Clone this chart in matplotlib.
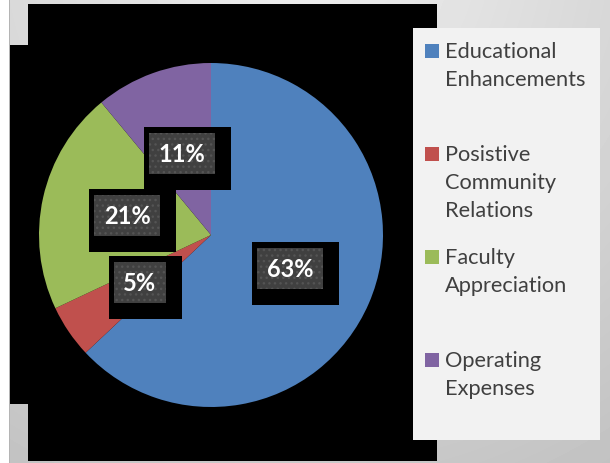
import numpy as np
import matplotlib
matplotlib.use('Agg')
import matplotlib.pyplot as plt
from matplotlib.patches import Rectangle

categories = ['Educational\nEnhancements', 'Posistive\nCommunity\nRelations',
              'Faculty\nAppreciation', 'Operating\nExpenses']
values = [63, 5, 21, 11]
colors = ['#4F81BD', '#C0504D', '#9BBB59', '#8064A2']

W, H = 610, 463
fig = plt.figure(figsize=(W / 100, H / 100), dpi=100)
fig.patch.set_facecolor('white')

# background / decoration axes in pixel coordinates (origin top-left)
bg = fig.add_axes([0, 0, 1, 1], zorder=0)
bg.axis('off')
yy, xx = np.mgrid[0:H, 0:W - 9]
xx = xx + 9
d = np.hypot(xx - 300, yy + 50)
v = np.clip(0.94 - 0.0003 * d, 0, 1)
bg.imshow(v, cmap='gray', vmin=0, vmax=1, extent=[9, W, H, 0],
          aspect='auto', interpolation='bilinear')
bg.set_xlim(0, W)
bg.set_ylim(H, 0)
bg.add_patch(Rectangle((9, 0), 1.2, H, facecolor='#b4b4b4', lw=0))
bg.add_patch(Rectangle((28, 4), 409, 457, facecolor='black', lw=0))
bg.add_patch(Rectangle((10, 45), 427, 359, facecolor='black', lw=0))
bg.add_patch(Rectangle((413, 28), 187, 412, facecolor='#F2F2F2', lw=0))

# legend (manual, evenly spaced entries)
leg_top, step, line_h = 44, 103, 28
for i, (lab, c) in enumerate(zip(categories, colors)):
    y0 = leg_top + i * step
    bg.add_patch(Rectangle((425, y0), 14, 14, facecolor=c, lw=0))
    for j, line in enumerate(lab.split('\n')):
        bg.text(445, y0 + 14 + j * line_h, line, va='baseline', ha='left',
                fontsize=15.7, color='#404040', family='Lato')

# pie
R, CX, CY = 172, 211, 235
ax = fig.add_axes([(CX - R) / W, (H - CY - R) / H, 2 * R / W, 2 * R / H], zorder=1)
wedges, texts, autotexts = ax.pie(values, colors=colors, startangle=90,
                                  counterclock=False, autopct='%1.0f%%',
                                  pctdistance=0.5, radius=1,
                                  wedgeprops=dict(linewidth=0))
ax.set_xlim(-1, 1)
ax.set_ylim(-1, 1)
ax.axis('off')
for t in autotexts:
    t.set_color('white')
    t.set_fontsize(17)
    t.set_fontweight('bold')
    t.set_family('Lato')
    t.set_zorder(5)

fig.canvas.draw()
r = fig.canvas.get_renderer()
inv = bg.transData.inverted()
for t in autotexts:
    ext = t.get_window_extent(r)
    (lx, by), (rx, ty) = inv.transform([[ext.x0, ext.y0], [ext.x1, ext.y1]])
    cx, cy = (lx + rx) / 2, (by + ty) / 2
    tw = rx - lx
    iw, ih = tw + 19, 41
    il, it = cx - iw / 2, cy - ih / 2 - 1
    ax.add_patch(Rectangle((il - 5, it - 6), iw + 21, ih + 22, facecolor='black',
                           lw=0, transform=bg.transData, zorder=3, clip_on=False))
    ax.add_patch(Rectangle((il, it), iw, ih, facecolor='#404040', edgecolor='#545454',
                           hatch='...', lw=0, transform=bg.transData, zorder=4,
                           clip_on=False))

fig.savefig('out.png', dpi=100)
